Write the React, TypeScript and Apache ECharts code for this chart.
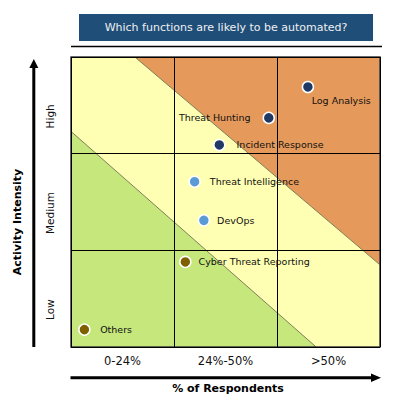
import React, { useEffect, useRef } from 'react';
import * as echarts from 'echarts';

const TITLE = 'Which functions are likely to be automated?';
const X_NAME = '% of Respondents';
const Y_NAME = 'Activity Intensity';
const xCategories = ['0-24%', '24%-50%', '>50%'];
const yCategories = ['Low', 'Medium', 'High'];

const functionNames = [
  'Log Analysis',
  'Threat Hunting',
  'Incident Response',
  'Threat Intelligence',
  'DevOps',
  'Cyber Threat Reporting',
  'Others',
];
const respondentScore = [2.3, 1.92, 1.44, 1.2, 1.29, 1.11, 0.13];
const intensityScore = [2.69, 2.37, 2.09, 1.71, 1.31, 0.88, 0.18];
const tier = ['high', 'high', 'high', 'mid', 'mid', 'low', 'low'];

const plotZone = [[0, 0], [3, 0], [3, 3], [0, 3]];
const lowZone = [[0, 0], [2.38, 0], [0, 2.23]];
const highZone = [[0.62, 3], [3, 3], [3, 0.85]];

const FONT = 'DejaVu Sans';
const tierColor: Record<string, string> = { high: '#1F3864', mid: '#5B9BD5', low: '#7F6000' };
const YELLOW = '#FFFFB3';
const GREEN = '#C5E77C';
const ORANGE = '#E5995B';
const EDGE = '#7F7F5A';

const labelPlacement: any[] = [
  { position: [10, 19.5], align: 'left', verticalAlign: 'middle' },
  { position: 'left', distance: 12 },
  { position: 'right', distance: 11 },
  { position: 'right', distance: 9 },
  { position: 'right', distance: 7 },
  { position: 'right', distance: 7 },
  { position: 'right', distance: 9.5 },
];

const zones = [
  { pts: plotZone, fill: YELLOW, edge: null as null | number[] },
  { pts: lowZone, fill: GREEN, edge: [1, 2] },
  { pts: highZone, fill: ORANGE, edge: [0, 2] },
  { pts: plotZone, fill: null as any, edge: null, frame: true },
];

export default function App() {
  const ref = useRef<HTMLDivElement>(null);
  useEffect(() => {
    if (!ref.current) return;
    const chart = echarts.init(ref.current, null, { renderer: 'svg' });
    const option: any = {
      animation: false,
      grid: { left: 71, top: 57, width: 309, height: 290, containLabel: false },
      xAxis: [
        {
          type: 'value', min: 0, max: 3, interval: 1, z: 3,
          axisLine: { show: false }, axisTick: { show: false }, axisLabel: { show: false },
          splitLine: { show: true, lineStyle: { color: '#000', width: 1 } },
        },
        {
          type: 'category', data: xCategories, position: 'bottom', z: 3,
          axisLine: { show: false }, axisTick: { show: false }, splitLine: { show: false },
          axisLabel: { fontFamily: FONT, fontSize: 11.5, color: '#111', margin: 8 },
        },
      ],
      yAxis: [
        {
          type: 'value', min: 0, max: 3, interval: 1, z: 3,
          axisLine: { show: false }, axisTick: { show: false }, axisLabel: { show: false },
          splitLine: { show: true, lineStyle: { color: '#000', width: 1 } },
        },
        {
          type: 'category', data: yCategories, position: 'left', z: 3,
          axisLine: { show: false }, axisTick: { show: false }, splitLine: { show: false },
          axisLabel: {
            fontFamily: FONT, fontSize: 10.5, color: '#111', rotate: 90, margin: 16,
            padding: [0, 22, 0, 0],
          },
        },
      ],
      series: [
        {
          type: 'custom', xAxisIndex: 0, yAxisIndex: 0, z: 1, silent: true,
          data: zones.map((_, i) => [i]),
          renderItem: (params: any, api: any) => {
            const zdef: any = zones[params.dataIndex];
            const pts = zdef.pts.map((p: number[]) => api.coord(p));
            const children: any[] = [];
            if (zdef.frame) {
              children.push({
                type: 'polygon', shape: { points: pts },
                style: { fill: 'none', stroke: '#3A3A3A', lineWidth: 1.5 },
              });
            } else {
              children.push({ type: 'polygon', shape: { points: pts }, style: { fill: zdef.fill } });
              if (zdef.edge) {
                children.push({
                  type: 'polyline',
                  shape: { points: [pts[zdef.edge[0]], pts[zdef.edge[1]]] },
                  style: { stroke: EDGE, lineWidth: 1, fill: 'none' },
                });
              }
            }
            return { type: 'group', children };
          },
        },
        {
          type: 'scatter', xAxisIndex: 0, yAxisIndex: 0, z: 5,
          symbolSize: 11,
          data: functionNames.map((n, i) => ({
            name: n,
            value: [respondentScore[i], intensityScore[i]],
            itemStyle: { color: tierColor[tier[i]], borderColor: '#fff', borderWidth: 1.5, opacity: 1 },
            label: {
              show: true, formatter: n, fontFamily: FONT, fontSize: 9.5, color: '#111',
              textBorderWidth: 0, ...labelPlacement[i],
            },
          })),
          itemStyle: { opacity: 1 },
          emphasis: { disabled: true },
        },
      ],
      graphic: [
        { type: 'rect', shape: { x: 79, y: 14, width: 294, height: 27 }, style: { fill: '#1F4E79' } },
        {
          type: 'text', x: 226, y: 27.5,
          style: { text: TITLE, fill: '#F0F0F0', font: `11px "${FONT}"`, align: 'center', verticalAlign: 'middle' },
        },
        { type: 'line', shape: { x1: 71, y1: 46.5, x2: 382, y2: 46.5 }, style: { stroke: '#000', lineWidth: 1.5 } },
        { type: 'line', shape: { x1: 33.8, y1: 347, x2: 33.8, y2: 66 }, style: { stroke: '#000', lineWidth: 3 } },
        { type: 'polygon', shape: { points: [[33.8, 59], [29.3, 68], [38.3, 68]] }, style: { fill: '#000' } },
        { type: 'line', shape: { x1: 70.5, y1: 377.7, x2: 373, y2: 377.7 }, style: { stroke: '#000', lineWidth: 3 } },
        { type: 'polygon', shape: { points: [[381, 377.7], [371, 373.4], [371, 382]] }, style: { fill: '#000' } },
        {
          type: 'text', x: 17, y: 222, rotation: Math.PI / 2,
          style: { text: Y_NAME, fill: '#000', font: `bold 11px "${FONT}"`, align: 'center', verticalAlign: 'middle' },
        },
        {
          type: 'text', x: 228, y: 388,
          style: { text: X_NAME, fill: '#000', font: `bold 11px "${FONT}"`, align: 'center', verticalAlign: 'middle' },
        },
      ],
    };
    chart.setOption(option);
    return () => chart.dispose();
  }, []);
  return (
    <div
      ref={ref}
      style={{ position: 'fixed', left: 0, top: 0, width: 394, height: 408, background: '#fff' }}
    />
  );
}
